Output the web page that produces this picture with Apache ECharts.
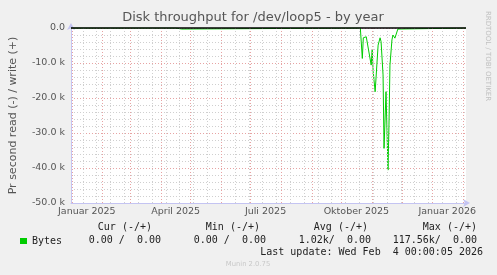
<!DOCTYPE html>
<html>
<head>
<meta charset="utf-8">
<script src="https://cdn.jsdelivr.net/npm/echarts@6/dist/echarts.min.js"></script>
<style>
html,body{margin:0;padding:0;background:#f0f0f0;}
#c{width:497px;height:275px;}
</style>
</head>
<body>
<div id="c"></div>
<script>
// ---- data ----
const titleText = 'Disk throughput for /dev/loop5 - by year';
const yAxisName = 'Pr second read (-) / write (+)';
const xRange = ['2024-12-31', '2026-02-04'];
const xTickDates = ['2025-01-16', '2025-04-16', '2025-07-16', '2025-10-16', '2026-01-16'];
const xTickLabels = ['Januar 2025', 'April 2025', 'Juli 2025', 'Oktober 2025', 'Januar 2026'];
const yTickValues = [-50000, -40000, -30000, -20000, -10000, 0];
const yTickLabels = ['-50.0 k', '-40.0 k', '-30.0 k', '-20.0 k', '-10.0 k', '0.0'];
const readDates = [
  '2024-12-31', '2025-04-16', '2025-04-17', '2025-04-22', '2025-04-23',
  '2025-10-20', '2025-10-22', '2025-10-23', '2025-10-26', '2025-10-28',
  '2025-10-31', '2025-11-01', '2025-11-02', '2025-11-04', '2025-11-07',
  '2025-11-09', '2025-11-10', '2025-11-12', '2025-11-13', '2025-11-15',
  '2025-11-17', '2025-11-18', '2025-11-19', '2025-11-21', '2025-11-22',
  '2025-11-24', '2025-11-27', '2025-11-28', '2026-02-04'
];
const readValues = [
  0, 0, -300, -300, 0,
  0, -8700, -2800, -2500, -2900,
  -10600, -6300, -12500, -18200, -4900,
  -2800, -3900, -13400, -34400, -18200,
  -40600, -27700, -10600, -3400, -2000,
  -2900, -300, 0, 0
];
const seriesName = 'Bytes';
const statHeaders = ['Cur (-/+)', 'Min (-/+)', 'Avg (-/+)', 'Max (-/+)'];
const statValues = ['0.00 /  0.00', '0.00 /  0.00', '1.02k/  0.00', '117.56k/  0.00'];
const lastUpdate = 'Last update: Wed Feb  4 00:00:05 2026';
const watermark = 'RRDTOOL / TOBI OETIKER';
const footer = 'Munin 2.0.75';

// ---- helpers ----
const DAY = 86400000;
const ts = s => Date.parse(s + 'T00:00:00Z');
const xMin = ts(xRange[0]), xMax = ts(xRange[1]);
const xTickTs = xTickDates.map(ts);

// grid line dates (axis ticks): month starts (major) and two-week steps (minor)
const monthStarts = [];
for (let y = 2025, m = 0; ; ) {
  const t = Date.UTC(y, m, 1);
  if (t > xMax) break;
  if (t > xMin) monthStarts.push(t);
  m++; if (m > 11) { m = 0; y++; }
}
const minorDates = [];
for (let t = ts('2025-01-12'); t < xMax; t += 14 * DAY) minorDates.push(t);

const fontP = 'DejaVu Sans';
const fontM = 'DejaVu Sans Mono';
const majorColor = '#e7a3a3';
const minorColor = '#cfcfcf';
const axisColor = '#c4c4f2';

const chart = echarts.init(document.getElementById('c'), null, {renderer: 'canvas'});

const colRight = [161, 266, 371, 477];
const headRight = [152, 260, 368, 477];
const graphics = [
  {type: 'text', x: 253, y: 18, style: {text: titleText, font: '13px ' + fontP, fill: '#555', align: 'center', verticalAlign: 'middle'}},
  {type: 'text', x: 488, y: 56, rotation: -Math.PI / 2, style: {text: watermark, font: '7px ' + fontP, fill: '#c0c0c0', align: 'center', verticalAlign: 'middle'}},
  {type: 'text', x: 483, y: 252, style: {text: lastUpdate, font: '10px ' + fontM, fill: '#222', align: 'right', verticalAlign: 'middle'}},
  {type: 'text', x: 248, y: 264, style: {text: footer, font: '6.8px ' + fontP, fill: '#c8c8c8', align: 'center', verticalAlign: 'middle'}}
];
statHeaders.forEach((h, i) => graphics.push({type: 'text', x: headRight[i], y: 227, style: {text: h, font: '10px ' + fontM, fill: '#222', align: 'right', verticalAlign: 'middle'}}));
statValues.forEach((v, i) => graphics.push({type: 'text', x: colRight[i], y: 240, style: {text: v, font: '10px ' + fontM, fill: '#222', align: 'right', verticalAlign: 'middle'}}));

const option = {
  backgroundColor: '#f0f0f0',
  animation: false,
  grid: {left: 66, right: 31, top: 28, bottom: 72, show: true, backgroundColor: '#ffffff', borderWidth: 0},
  legend: {
    data: [seriesName], left: 15, top: 231, itemWidth: 7, itemHeight: 6, icon: 'rect',
    textStyle: {fontFamily: fontM, fontSize: 10, color: '#222'}, selectedMode: false
  },
  xAxis: {
    type: 'value', min: xMin, max: xMax,
    axisLine: {onZero: false, lineStyle: {color: axisColor, width: 1}, symbol: ['none', 'arrow'], symbolSize: [6, 7], symbolOffset: [0, 4]},
    axisTick: {show: false},
    splitLine: {show: false},
    axisLabel: {
      customValues: xTickTs,
      formatter: v => { const i = xTickTs.indexOf(v); return i >= 0 ? xTickLabels[i] : ''; },
      fontFamily: fontP, fontSize: 9.5, color: '#555', margin: 4, hideOverlap: false
    }
  },
  yAxis: {
    type: 'value', min: -50000, max: 0, interval: 10000,
    name: yAxisName, nameLocation: 'middle', nameGap: 52, nameRotate: 90,
    nameTextStyle: {fontFamily: fontP, fontSize: 11, color: '#555'},
    axisLine: {show: true, lineStyle: {color: axisColor, width: 1}, symbol: ['none', 'arrow'], symbolSize: [6, 7], symbolOffset: [0, 5]},
    axisTick: {show: false},
    axisLabel: {
      formatter: v => { const i = yTickValues.indexOf(v); return i >= 0 ? yTickLabels[i] : ''; },
      fontFamily: fontP, fontSize: 9.5, color: '#555', margin: 6
    },
    splitLine: {show: true, lineStyle: {color: majorColor, type: [1, 2], width: 1}},
    minorTick: {show: false, splitNumber: 5},
    minorSplitLine: {show: true, lineStyle: {color: minorColor, type: [1, 2], width: 1}}
  },
  graphic: graphics,
  series: [
    {
      name: 'grid-minor', type: 'line', data: [], z: 1, silent: true,
      markLine: {silent: true, symbol: 'none', label: {show: false}, animation: false,
        lineStyle: {color: minorColor, type: [1, 2], width: 1},
        data: minorDates.map(t => ({xAxis: t}))}
    },
    {
      name: 'grid-major', type: 'line', data: [], z: 1, silent: true,
      markLine: {silent: true, symbol: 'none', label: {show: false}, animation: false,
        lineStyle: {color: majorColor, type: [1, 2], width: 1},
        data: monthStarts.map(t => ({xAxis: t}))}
    },
    {
      name: seriesName, type: 'line', z: 3,
      data: readDates.map((d, i) => [ts(d), readValues[i]]),
      showSymbol: false, symbol: 'none', color: '#00cc00',
      lineStyle: {color: '#00cc00', width: 1}
    },
    {
      name: 'zero', type: 'line', data: [], z: 5, silent: true,
      markLine: {silent: true, symbol: 'none', label: {show: false}, animation: false,
        lineStyle: {color: '#000000', type: 'solid', width: 1.5},
        data: [{yAxis: 0}]}
    }
  ]
};
chart.setOption(option);
</script>
</body>
</html>
